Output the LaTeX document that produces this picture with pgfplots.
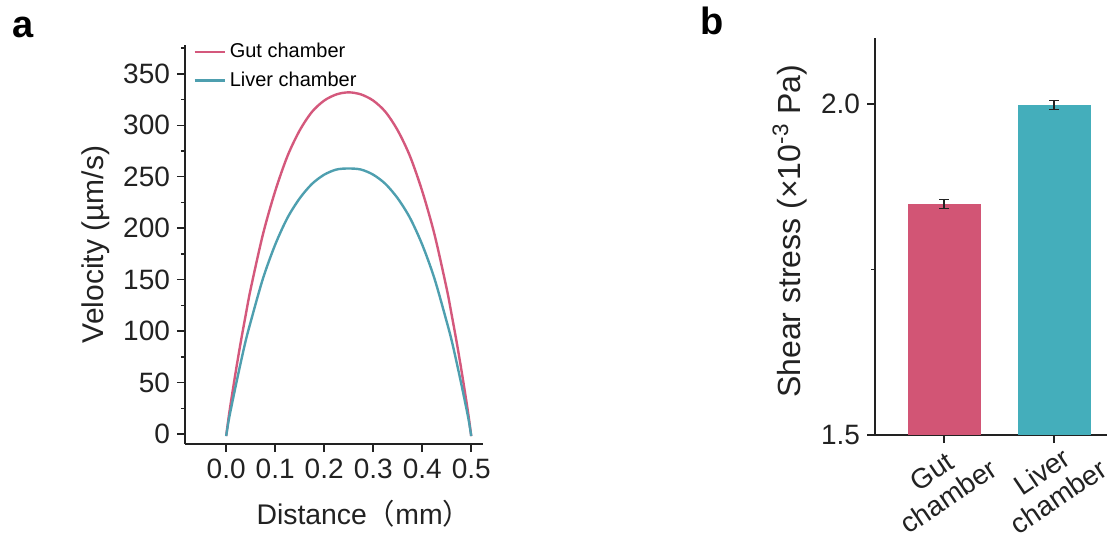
\documentclass[border=0pt]{standalone}
\usepackage{pgfplots}
\pgfplotsset{compat=1.18}
\usepackage{fontspec}
\setmainfont{Liberation Sans}
\newfontfamily\cjk{Noto Sans CJK SC}

\definecolor{gutline}{HTML}{D4587C}
\definecolor{liverline}{HTML}{4E9FAF}
\definecolor{gutbar}{HTML}{D25575}
\definecolor{liverbar}{HTML}{44AEBB}
\definecolor{axc}{HTML}{222222}

\pgfplotsset{
  panel/.style={
    scale only axis,
    axis x line*=bottom,
    axis y line*=left,
    axis line style={line width=0.75pt, color=axc},
    tick style={line width=0.75pt, color=axc},
    tick align=outside,
    major tick length=4pt,
    minor tick length=2pt,
    tick label style={font=\fontsize{14}{16}\selectfont, color=axc},
    label style={font=\fontsize{15}{18}\selectfont, color=axc},
    /pgf/number format/assume math mode=true,
  },
}

\begin{document}
\begin{tikzpicture}
\useasboundingbox (0,0) rectangle (557.5pt,271.5pt);

% panel a: velocity profiles
\begin{axis}[panel,
  at={(92.5pt,49.5pt)}, anchor=south west,
  width=149pt, height=199.5pt,
  xmin=-0.084, xmax=0.524,
  ymin=-9.7, ymax=378,
  xtick={0,0.1,0.2,0.3,0.4,0.5},
  xticklabels={0.0,0.1,0.2,0.3,0.4,0.5},
  ytick={0,50,100,150,200,250,300,350},
  minor ytick={25,75,125,175,225,275,325,375},
  xlabel={Distance{\cjk （}mm{\cjk ）}},
  ylabel={Velocity (µm/s)},
  xlabel style={at={(ticklabel cs:0.6)}, yshift=-4pt,
    font=\fontsize{14.2}{17}\selectfont},
  ylabel style={at={(ticklabel cs:0.5)}},
  legend style={at={(rel axis cs:0.02,1.02)}, anchor=north west, draw=none,
    fill=none, font=\fontsize{10}{12}\selectfont, row sep=1.5pt,
    inner sep=1pt},
  legend cell align=left,
  legend image code/.code={\draw[#1] (0pt,0pt) -- (15pt,0pt);},
]
\addplot[gutline, line width=1.2pt, smooth] coordinates {
  (0,-2) (0.005,16) (0.01,32) (0.02,62) (0.03,90) (0.04,116) (0.05,141)
  (0.075,194) (0.1,236) (0.125,270) (0.15,295) (0.175,313) (0.2,324)
  (0.225,330) (0.25,332) (0.275,330) (0.3,324) (0.325,313) (0.35,295)
  (0.375,270) (0.4,236) (0.425,194) (0.45,141) (0.46,116) (0.47,90)
  (0.48,62) (0.49,32) (0.495,16) (0.5,-2)
};
\addlegendentry{Gut chamber}
\addplot[liverline, line width=1.2pt, smooth] coordinates {
  (0,-2) (0.005,13) (0.01,25) (0.02,48) (0.03,70) (0.04,91) (0.05,109)
  (0.075,151) (0.1,184) (0.125,210) (0.15,229) (0.175,243) (0.2,252)
  (0.225,257) (0.25,258) (0.275,257) (0.3,252) (0.325,243) (0.35,229)
  (0.375,210) (0.4,184) (0.425,151) (0.45,109) (0.46,91) (0.47,70)
  (0.48,48) (0.49,25) (0.495,13) (0.5,-2)
};
\addlegendentry{Liver chamber}
\end{axis}

% panel b: shear stress
\begin{axis}[panel,
  at={(437.5pt,54pt)}, anchor=south west,
  width=116pt, height=198.5pt,
  xmin=-0.627, xmax=1.48,
  ymin=1.5, ymax=2.1,
  xtick={0,1},
  xticklabels={Gut\\chamber,Liver\\chamber},
  xticklabel style={align=center, yshift=-20.5pt, xshift=-2pt, rotate=34,
    anchor=center, font=\fontsize{14}{15}\selectfont},
  ytick={1.5,2.0},
  minor ytick={1.75},
  yticklabel style={/pgf/number format/.cd, fixed, fixed zerofill, precision=1},
  ylabel={Shear stress (×10\textsuperscript{-3} Pa)},
  ylabel style={at={(ticklabel cs:0.513)}, font=\fontsize{16}{18}\selectfont},
  ybar, bar width=36.5pt, bar shift=0pt,
]
\addplot[fill=gutbar, draw=none,
  error bars/.cd, y dir=both, y explicit,
  error bar style={line width=0.7pt, color=axc},
  error mark options={rotate=90, mark size=2.5pt, line width=0.7pt, color=axc}]
  coordinates {(0,1.849) +- (0,0.007)};
\addplot[fill=liverbar, draw=none,
  error bars/.cd, y dir=both, y explicit,
  error bar style={line width=0.7pt, color=axc},
  error mark options={rotate=90, mark size=2.5pt, line width=0.7pt, color=axc}]
  coordinates {(1,1.999) +- (0,0.007)};
\end{axis}

\node[font=\fontsize{19}{20}\selectfont\bfseries] at (11.5pt,258pt) {a};
\node[font=\fontsize{19}{20}\selectfont\bfseries] at (356pt,261pt) {b};
\end{tikzpicture}
\end{document}
